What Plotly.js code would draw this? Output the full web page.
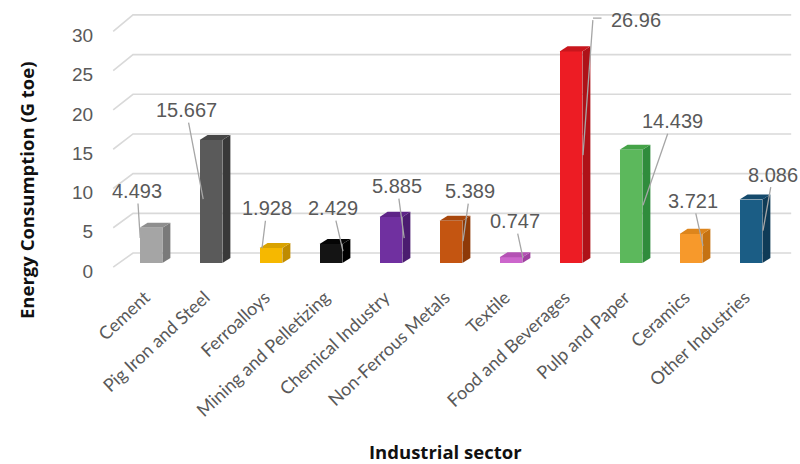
<!DOCTYPE html>
<html>
<head>
<meta charset="utf-8">
<script src="https://cdn.plot.ly/plotly-3.0.1.min.js"></script>
<style>html,body{margin:0;padding:0;background:#fff;}#chart{width:800px;height:464px;}</style>
</head>
<body>
<div id="chart"></div>
<script>
// ---- data ----
const categories = ["Cement", "Pig Iron and Steel", "Ferroalloys", "Mining and Pelletizing",
  "Chemical Industry", "Non-Ferrous Metals", "Textile", "Food and Beverages",
  "Pulp and Paper", "Ceramics", "Other Industries"];
const values = [4.493, 15.667, 1.928, 2.429, 5.885, 5.389, 0.747, 26.96, 14.439, 3.721, 8.086];
const yTickValues = [0, 5, 10, 15, 20, 25, 30];

// ---- styles ----
const frontColors = ["#a5a5a5", "#5a5a5a", "#f6b800", "#141414", "#7030a0", "#c45511",
  "#cc66cc", "#ed1c24", "#5cb85c", "#f7992b", "#1b5d85"];
const topColors = ["#8e8e8e", "#474747", "#d9a200", "#050505", "#5e2488", "#a8470c",
  "#b452b4", "#c9161d", "#45a348", "#dd851c", "#154a6c"];
const sideColors = ["#7a7a7a", "#393939", "#bf8b00", "#000000", "#4b1c70", "#8e3a08",
  "#9f40a0", "#ae1218", "#2f8c3c", "#c57212", "#0f3b57"];
// leader-line anchor (fraction of bar height, x offset) and label offset in px
const leadFrac = [0.71, 0.52, 0.98, 0.63, 0.54, 0.52, 0.85, 0.51, 0.51, 0.59, 0.51];
const leadDx = [-0.18, -0.13, -0.15, 0.2, 0.22, 0.2, 0.2, 0.2, 0.2, 0.2, 0.2];
const labAx = [-3, -17, 5, -10, -7, 7, -8, 53, 29, -10, 10];
const labAy = [-47, -89, -40, -43, -52, -50, -37, -135, -84, -45, -56];

const BASE = 0.5;            // perspective lift of the bar floor (visual only)
const BW = 0.38, DX = 0.133, DY = 0.64;
const PXU = 7.85;            // px per y unit
const xs = categories.map((c, i) => i);

const traces = [{
  type: "bar", x: xs, y: values, base: BASE, width: BW,
  marker: {color: frontColors, line: {width: 0}},
  hoverinfo: "skip", showlegend: false
}];
values.forEach((v, i) => {
  const r = i + BW / 2, l = i - BW / 2, b = BASE, t = BASE + v;
  traces.push({
    type: "scatter", mode: "lines", fill: "toself", fillcolor: sideColors[i],
    line: {width: 0, color: sideColors[i]}, hoverinfo: "skip", showlegend: false,
    x: [r, r + DX, r + DX, r, r], y: [b, b + DY, t + DY, t, b]
  });
  traces.push({
    type: "scatter", mode: "lines", fill: "toself", fillcolor: topColors[i],
    line: {width: 0, color: topColors[i]}, hoverinfo: "skip", showlegend: false,
    x: [l, r, r + DX, l + DX, l], y: [t, t, t + DY, t + DY, t]
  });
});

// perspective gridlines (back wall) with slanted left edge
const shapes = yTickValues.map(t => {
  const back = 1.78 + 1.011 * t;
  return {
    type: "path", xref: "x", yref: "y", layer: "below",
    path: `M -0.63,${t} L -0.3,${back} L 10.67,${back}`,
    line: {color: "#d9d9d9", width: 1.6}
  };
});

const labelFont = {family: "Liberation Sans, Arial, sans-serif", size: 20, color: "#595959"};
const titleFont = {family: "Open Sans, sans-serif", size: 18.5, color: "#111111", weight: "bold"};
const annotations = [];
values.forEach((v, i) => {
  const px = i + leadDx[i], py = BASE + v * leadFrac[i];
  if (i === 7) {
    annotations.push({x: px, y: py, xref: "x", yref: "y", text: values[i].toString(),
      showarrow: false, xshift: labAx[i], yshift: -labAy[i], font: labelFont});
    annotations.push({x: px, y: py, xref: "x", yref: "y", text: " ", font: {size: 1},
      showarrow: true, arrowhead: 0, arrowwidth: 1.3, arrowcolor: "#a6a6a6",
      ax: 10, ay: labAy[i] - 2, standoff: 0, startstandoff: 0});
    annotations.push({x: px + 10 / 60, y: py + (-labAy[i] + 2) / PXU, xref: "x", yref: "y",
      text: " ", font: {size: 1}, showarrow: true, arrowhead: 0, arrowwidth: 1.3,
      arrowcolor: "#a6a6a6", ax: 10, ay: 0});
  } else {
    annotations.push({x: px, y: py, xref: "x", yref: "y", text: values[i].toString(),
      font: labelFont, showarrow: true, arrowhead: 0, arrowwidth: 1.3,
      arrowcolor: "#a6a6a6", ax: labAx[i], ay: labAy[i]});
  }
});
// axis titles placed as in the reference
annotations.push({xref: "paper", yref: "paper", x: (445 - 112) / 681, y: -(451 - 269) / 256,
  text: "Industrial sector", showarrow: false, font: titleFont,
  xanchor: "center", yanchor: "middle"});
annotations.push({xref: "paper", yref: "paper", x: -(112 - 26) / 681, y: (269 - 190) / 256,
  text: "Energy Consumption (G toe)", showarrow: false, font: titleFont, textangle: -90,
  xanchor: "center", yanchor: "middle"});

const layout = {
  width: 800, height: 464,
  margin: {l: 112, r: 7, t: 13, b: 195},
  paper_bgcolor: "#ffffff", plot_bgcolor: "#ffffff",
  showlegend: false,
  bargap: 0,
  xaxis: {
    range: [-0.65, 10.7], tickmode: "array", tickvals: xs, ticktext: categories,
    tickangle: -43, showgrid: false, zeroline: false, showline: false,
    ticks: "outside", ticklen: 10, tickcolor: "rgba(0,0,0,0)", ticklabelshift: -6,
    tickfont: {family: "Lato, Carlito, sans-serif", size: 18, color: "#595959"}
  },
  yaxis: {
    range: [-0.25, 32.35], tickmode: "array", tickvals: yTickValues,
    showgrid: false, zeroline: false, showline: false,
    ticks: "outside", ticklen: 14, tickcolor: "rgba(0,0,0,0)", ticklabelshift: 4,
    tickfont: {family: "Liberation Sans, Arial, sans-serif", size: 19, color: "#595959"}
  },
  shapes: shapes,
  annotations: annotations
};

Plotly.newPlot("chart", traces, layout, {displayModeBar: false, staticPlot: true});
</script>
</body>
</html>
